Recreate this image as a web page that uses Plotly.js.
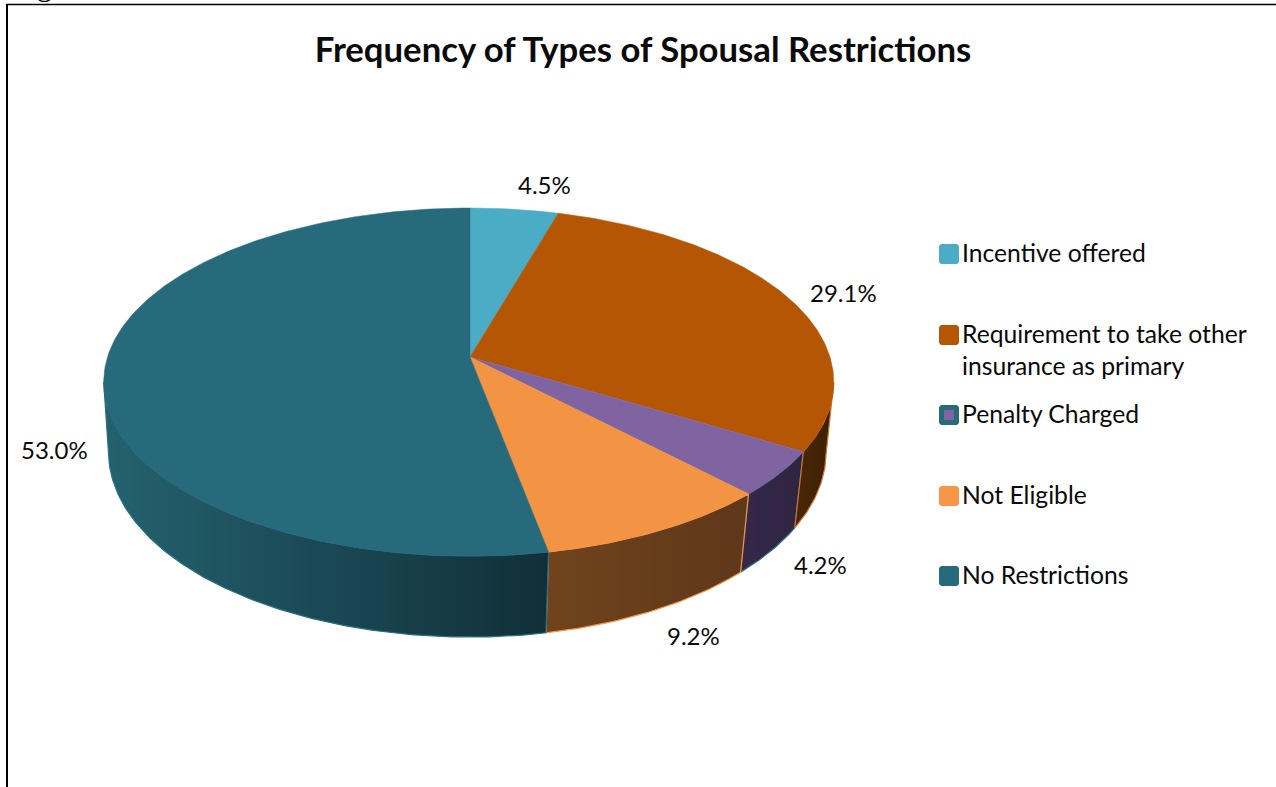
<!DOCTYPE html>
<html>
<head>
<meta charset="utf-8">
<script src="https://cdn.plot.ly/plotly-3.0.1.min.js"></script>
<style>html,body{margin:0;padding:0;background:#fff;overflow:hidden}#chart{width:1276px;height:787px}</style>
</head>
<body>
<div id="chart"></div>
<script>
// Survey shares, clockwise from twelve o'clock
const categories = ['Incentive offered', 'Requirement to take other insurance as primary', 'Penalty Charged', 'Not Eligible', 'No Restrictions'];
const shares = [4.5, 29.1, 4.2, 9.2, 53.0];

const legendLines = [['Incentive offered'], ['Requirement to take other', 'insurance as primary'], ['Penalty Charged'], ['Not Eligible'], ['No Restrictions']];

const topColors = ['#4BACC6', '#B55605', '#8064A2', '#F39445', '#276A7C'];
const wallLeft = ['#2b6f80', '#4a2705', '#352849', '#70431c', '#24626f'];
const wallRight = ['#2b6f80', '#3d2004', '#2f2440', '#5e381a', '#112f38'];
const wallEdge = ['#4BACC6', '#c9763a', '#2f6f80', '#F39445', '#2a6f82'];
const swatchFill = ['#4BACC6', '#B55605', '#8064A2', '#F79646', '#276A7C'];
const swatchEdge = ['#4BACC6', '#B55605', '#276A7C', '#F79646', '#276A7C'];

// Stacking of the side walls, so the warm seams stay on top of the purple one
const wallOrder = [2, 0, 1, 3, 4];

// Where each value label sits, and the legend rows
const labelX = [544, 843, 820, 693.5, 54];
const labelY = [184, 292, 564, 635, 449];
const legendRowY = [254, 335, 415, 496, 576];

// Perspective views of the pie's two discs; the top face's apex is its centre
const apex = {x: 470, y: 357};
const topDisc = {a: 360, b: 170.4, k: 0.1437, dy: 0, leftStretch: 1.007};
const baseDisc = {a: 353, b: 182, k: 0.132, dy: 70.4, leftStretch: 1.015};

function project(disc, deg) {
  const t = deg * Math.PI / 180, u = Math.sin(t), v = -Math.cos(t), d = 1 - disc.k * v;
  const sx = u < 0 ? disc.leftStretch : 1;
  return [apex.x + sx * disc.a * u / d, apex.y + disc.b * v / d + disc.dy];
}

function arc(from, to) {
  const out = [], n = Math.max(2, Math.ceil((to - from) * 1.5));
  for (let i = 0; i <= n; i++) out.push(from + (to - from) * i / n);
  return out;
}

// The side wall only shows in front of the silhouette tangent points
const tangent = Math.acos(-topDisc.k) * 180 / Math.PI;
const walls = {};
const tops = [];
let running = 0;
shares.forEach((s, i) => {
  const start = running * 3.6, end = (running + s) * 3.6;
  running += s;
  const from = Math.max(start, tangent), to = Math.min(end, 360 - tangent);
  if (to > from) {
    const front = arc(from, to);
    const upper = front.map(d => project(topDisc, d));
    const lower = front.map(d => project(baseDisc, d)).reverse();
    const ring = upper.concat(lower, [upper[0]]);
    walls[i] = {
      type: 'scatter', mode: 'lines', name: categories[i], hoverinfo: 'skip', showlegend: false,
      x: ring.map(p => p[0]), y: ring.map(p => p[1]),
      fill: 'toself',
      fillgradient: {type: 'horizontal', colorscale: [[0, wallLeft[i]], [1, wallRight[i]]]},
      line: {color: wallEdge[i], width: 1.2}
    };
  }
  const rim = arc(start, end).map(d => project(topDisc, d));
  const face = [[apex.x, apex.y]].concat(rim, [[apex.x, apex.y]]);
  tops.push({
    type: 'scatter', mode: 'lines', name: categories[i], hoverinfo: 'skip', showlegend: false,
    x: face.map(p => p[0]), y: face.map(p => p[1]),
    fill: 'toself', fillcolor: topColors[i],
    line: {color: topColors[i], width: 0.5}
  });
});
const traces = wallOrder.filter(i => walls[i]).map(i => walls[i]);

// Rounded legend swatch as an SVG path in axis units
function swatch(cx, cy, half, r, fill, edge) {
  const l = cx - half, t = cy - half, e = cx + half, b = cy + half;
  return {
    type: 'path', xref: 'x', yref: 'y', fillcolor: fill, line: {color: edge, width: 1},
    path: `M${l + r},${t} L${e - r},${t} Q${e},${t} ${e},${t + r} L${e},${b - r} Q${e},${b} ${e - r},${b} L${l + r},${b} Q${l},${b} ${l},${b - r} L${l},${t + r} Q${l},${t} ${l + r},${t} Z`
  };
}
const shapes = [];
legendRowY.forEach((y, i) => {
  shapes.push(swatch(949, y, 9.5, 2.5, swatchEdge[i], swatchEdge[i]));
  if (swatchFill[i] !== swatchEdge[i]) shapes.push(swatch(949, y, 4.5, 0, swatchFill[i], swatchFill[i]));
});
// Page frame around the figure
shapes.push({type: 'line', xref: 'x', yref: 'y', x0: 7, x1: 7, y0: 4, y1: 787, line: {color: '#000', width: 2}});
shapes.push({type: 'line', xref: 'x', yref: 'y', x0: 6, x1: 1276, y0: 4.5, y1: 4.5, line: {color: '#000', width: 1.5}});

const uiFont = 'Lato, "Open Sans", sans-serif';
const annotations = [];
shares.forEach((s, i) => annotations.push({
  x: labelX[i], y: labelY[i], xref: 'x', yref: 'y', showarrow: false, xanchor: 'center', yanchor: 'middle',
  text: s.toFixed(1) + '%', font: {family: uiFont, size: 24, color: '#0a0a0a'}
}));
legendLines.forEach((lines, i) => annotations.push({
  x: 963, y: legendRowY[i] - 18, xref: 'x', yref: 'y', showarrow: false, xanchor: 'left', yanchor: 'top', align: 'left',
  xshift: -3,
  text: lines.join('<br>'), font: {family: uiFont, size: 24.7, color: '#0a0a0a'}
}));
annotations.push({
  x: 10, y: 4, xref: 'x', yref: 'y', showarrow: false, xanchor: 'left', yanchor: 'bottom',
  text: 'Figure', font: {family: '"Liberation Serif", serif', size: 30, color: '#000'}
});

const layout = {
  width: 1276, height: 787,
  margin: {l: 0, r: 0, t: 0, b: 0, pad: 0},
  paper_bgcolor: '#fff', plot_bgcolor: '#fff',
  showlegend: false,
  title: {
    text: '<b>Frequency of Types of Spousal Restrictions</b>',
    font: {family: uiFont, size: 34.7, color: '#0a0a0a'},
    x: 643 / 1276, xanchor: 'center', y: 1 - 50 / 787, yanchor: 'middle'
  },
  xaxis: {range: [0, 1276], visible: false, fixedrange: true},
  yaxis: {range: [787, 0], visible: false, fixedrange: true},
  shapes: shapes,
  annotations: annotations
};

Plotly.newPlot('chart', traces.concat(tops), layout, {displayModeBar: false, staticPlot: true});
</script>
</body>
</html>
